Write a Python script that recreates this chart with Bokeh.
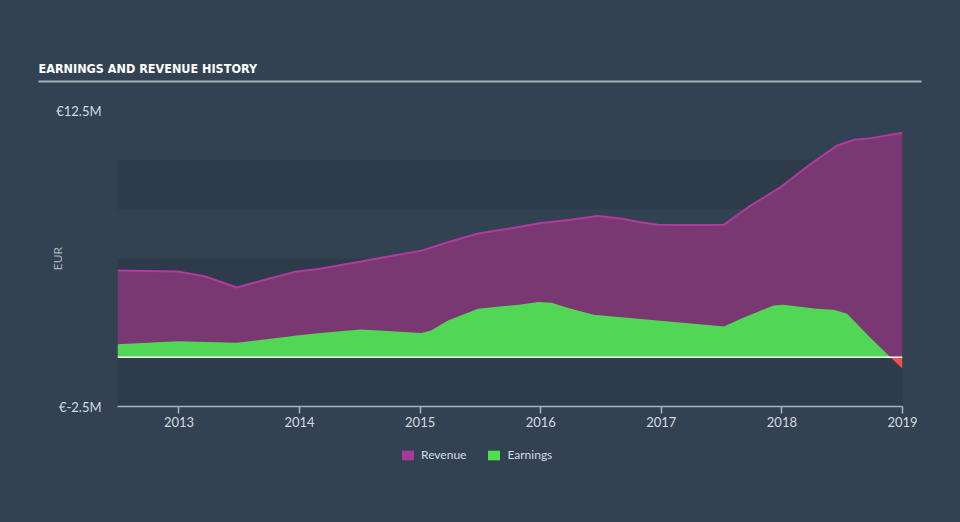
import math
import numpy as np
from bokeh.plotting import figure
from bokeh.models import Range1d, FixedTicker, Label, Legend, LegendItem, BoxAnnotation, Span, ColumnDataSource
from bokeh.layouts import column
from bokeh.embed import file_html
from bokeh.resources import INLINE

# ---------------- data (EUR millions) ----------------
revenue_years = [2012.49, 2012.99, 2013.22, 2013.48, 2013.72, 2013.95, 2014.17, 2014.51, 2014.76,
                 2015.02, 2015.25, 2015.48, 2015.73, 2015.99, 2016.25, 2016.47, 2016.66, 2016.83,
                 2016.97, 2017.24, 2017.52, 2017.72, 2017.99, 2018.24, 2018.46, 2018.60, 2018.74, 2019.0]
revenue_values = [4.39, 4.34, 4.09, 3.53, 3.94, 4.31, 4.48, 4.85, 5.13,
                  5.41, 5.86, 6.27, 6.51, 6.79, 6.96, 7.15, 7.03, 6.84,
                  6.71, 6.70, 6.71, 7.60, 8.62, 9.80, 10.73, 11.02, 11.10, 11.37]

earnings_years = [2012.49, 2012.99, 2013.48, 2013.98, 2014.17, 2014.51, 2014.73, 2015.01, 2015.09,
                  2015.23, 2015.48, 2015.68, 2015.82, 2015.98, 2016.09, 2016.22, 2016.44, 2016.83,
                  2017.52, 2017.66, 2017.93, 2018.01, 2018.29, 2018.43, 2018.54, 2018.73, 2018.90, 2019.0]
earnings_values = [0.66, 0.81, 0.73, 1.10, 1.22, 1.40, 1.32, 1.22, 1.35,
                   1.86, 2.45, 2.58, 2.66, 2.79, 2.76, 2.50, 2.15, 1.94,
                   1.56, 1.95, 2.62, 2.66, 2.45, 2.40, 2.20, 1.01, 0.0, -0.59]

x_tick_years = [2013, 2014, 2015, 2016, 2017, 2018, 2019]
x_tick_labels = ["2013", "2014", "2015", "2016", "2017", "2018", "2019"]
y_tick_values = [-2.5, 12.5]
y_tick_labels = ["€-2.5M", "€12.5M"]
band_ranges = [(-2.5, 0.0), (2.5, 5.0), (7.5, 10.0)]

series_names = ["Revenue", "Earnings"]
title_text = "EARNINGS AND REVENUE HISTORY"
y_axis_title = "EUR"

# ---------------- styles ----------------
BG = "#334252"
BAND = "#2e3b4a"
REV_FILL = "#7a3873"
REV_LINE = "#b03a9e"
REV_SWATCH = "#a8399a"
EARN_FILL = "#52d655"
EARN_SWATCH = "#4fe050"
NEG_FILL = "#e9524a"
TXT = "#d6dbe0"
FONT = "Lato"


def bare(fig):
    fig.frame_align = False
    fig.outline_line_color = None
    fig.axis.visible = False
    fig.grid.visible = False
    fig.styles = {"background-color": BG}


# ---------------- header ----------------
head = figure(width=960, height=95, x_range=Range1d(0, 960), y_range=Range1d(95, 0),
              output_backend="svg", toolbar_location=None, min_border=0,
              background_fill_color=BG, border_fill_color=BG)
bare(head)
head.add_layout(Label(x=38, y=68, text=title_text, text_font="DejaVu Sans Condensed",
                      text_font_style="bold", text_font_size="12.5px", text_color="white",
                      text_baseline="middle", text_align="left"))
head.segment(x0=[38], y0=[81], x1=[921], y1=[81], line_color="#a9b0b8", line_width=2)

# ---------------- main chart ----------------
p = figure(width=960, height=345, x_range=Range1d(2012.49, 2019.0), y_range=Range1d(-2.5, 12.5),
           output_backend="svg", toolbar_location=None,
           min_border_left=117, min_border_right=58, min_border_top=15, min_border_bottom=34,
           background_fill_color=BG, border_fill_color=BG)
p.frame_align = False
p.outline_line_color = None
p.grid.visible = False
p.styles = {"background-color": BG}

for lo, hi in band_ranges:
    p.add_layout(BoxAnnotation(bottom=lo, top=hi, fill_color=BAND, fill_alpha=1.0,
                               line_color=None, level="underlay"))

rev_src = ColumnDataSource(dict(x=revenue_years, y=revenue_values))
p.varea(x="x", y1=0, y2="y", source=rev_src, fill_color=REV_FILL, fill_alpha=1.0)
p.line(x="x", y="y", source=rev_src, line_color=REV_LINE, line_width=2)

e = np.array(earnings_values)
earn_src = ColumnDataSource(dict(x=earnings_years, pos=np.maximum(e, 0), neg=np.minimum(e, 0)))
p.varea(x="x", y1=0, y2="pos", source=earn_src, fill_color=EARN_FILL)
p.varea(x="x", y1="neg", y2=0, source=earn_src, fill_color=NEG_FILL)

p.add_layout(Span(location=0, dimension="width", line_color="white", line_width=1.5))

# axes
xa = p.xaxis[0]
xa.ticker = FixedTicker(ticks=x_tick_years)
xa.major_label_overrides = {t: s for t, s in zip(x_tick_years, x_tick_labels)}
xa.axis_line_color = "#a9b3be"
xa.axis_line_width = 1.5
xa.major_tick_line_color = "#a9b3be"
xa.major_tick_line_width = 1.5
xa.major_tick_out = 7
xa.major_tick_in = 0
xa.minor_tick_line_color = None
xa.major_label_text_font = FONT
xa.major_label_text_font_size = "13px"
xa.major_label_text_color = TXT
xa.major_label_standoff = 3

ya = p.yaxis[0]
ya.ticker = FixedTicker(ticks=y_tick_values)
ya.major_label_overrides = {t: s for t, s in zip(y_tick_values, y_tick_labels)}
ya.axis_line_color = None
ya.major_tick_line_color = None
ya.minor_tick_line_color = None
ya.major_label_text_font = FONT
ya.major_label_text_font_size = "13px"
ya.major_label_text_color = TXT
ya.major_label_standoff = 10
ya.axis_label = y_axis_title
ya.axis_label_text_font = FONT
ya.axis_label_text_font_size = "12px"
ya.axis_label_text_font_style = "normal"
ya.axis_label_text_color = "#aab3bc"
ya.axis_label_standoff = -12

# ---------------- footer with legend ----------------
foot = figure(width=960, height=82, x_range=Range1d(0, 1), y_range=Range1d(0, 1),
              output_backend="svg", toolbar_location=None, min_border=0,
              background_fill_color=BG, border_fill_color=BG)
bare(foot)
# swatch renderers sit outside the visible range; they only feed the legend
sw_src = ColumnDataSource(dict(l=[5], r=[6], b=[5], t=[6]))
rev_sw = foot.quad(left="l", right="r", bottom="b", top="t", source=sw_src, fill_color=REV_SWATCH, line_color=None)
earn_sw = foot.quad(left="l", right="r", bottom="b", top="t", source=sw_src, fill_color=EARN_SWATCH, line_color=None)
legend = Legend(items=[LegendItem(label=series_names[0], renderers=[rev_sw]),
                       LegendItem(label=series_names[1], renderers=[earn_sw])],
                orientation="horizontal", location=(400, 60),
                glyph_width=15, glyph_height=12, label_height=12, label_standoff=6, spacing=20,
                padding=0, margin=0, border_line_color=None, background_fill_alpha=0,
                label_text_font=FONT, label_text_font_size="12px", label_text_color=TXT)
foot.add_layout(legend, "center")

layout = column(head, p, foot, spacing=0, styles={"background-color": BG})
open("out.html", "w").write(file_html(layout, INLINE))
